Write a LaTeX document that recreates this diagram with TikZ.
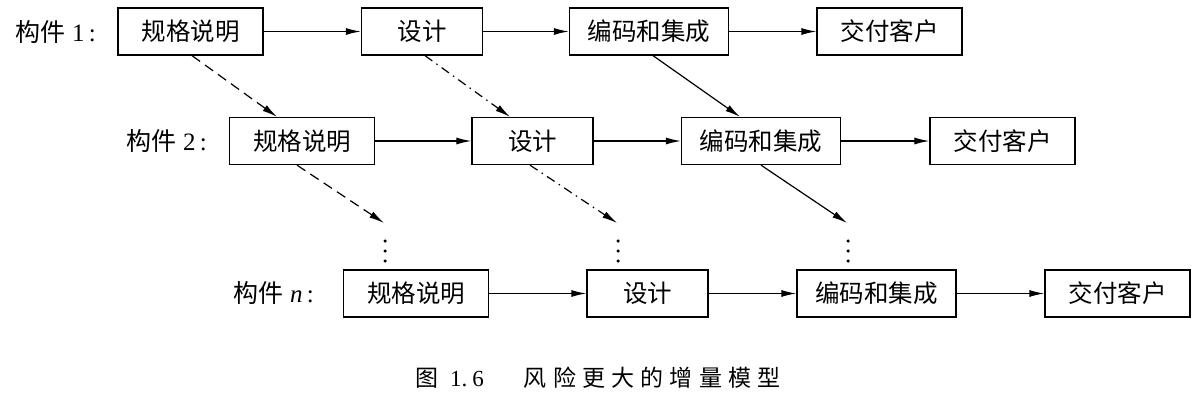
\documentclass[tikz,border=0pt]{standalone}
\usepackage{fontspec}
\setmainfont{Liberation Serif}
\newfontfamily\cjk{Noto Sans CJK SC}
\usetikzlibrary{arrows.meta}
\newcommand\capgap{\hspace{6.2pt}}
\begin{document}
\begin{tikzpicture}[x=1pt,y=-1pt,
  box/.style={draw, line width=1.3pt, minimum height=47pt, inner sep=0pt, font=\cjk\fontsize{24.5}{24.5}\selectfont},
  wa/.style={box, minimum width=145pt},
  wb/.style={box, minimum width=121pt},
  wc/.style={box, minimum width=159pt},
  lbl/.style={anchor=east, inner sep=0pt, font=\fontsize{25}{25}\selectfont},
  arr/.style={-{Latex[length=15pt,width=7pt]}, line width=1.2pt},
  dsh/.style={arr, dash pattern=on 10pt off 6pt},
  dsd/.style={arr, dash pattern=on 9pt off 5pt on 1.5pt off 5pt},
  dot/.style={circle, fill, inner sep=0pt, minimum size=3.5pt}]
\useasboundingbox (0,0) rectangle (1202,401);
% row 1
\node[lbl] (l1) at (96,32) {{\cjk 构件}\hspace{7pt}1\,:};
\node[wa] (a1) at (190.5,31.5) {规格说明};
\node[wb] (b1) at (422,31.5) {设计};
\node[wc] (c1) at (649,31.5) {编码和集成};
\node[wa] (d1) at (889.5,31.5) {交付客户};
% row 2
\node[lbl] (l2) at (207,141) {{\cjk 构件}\hspace{7pt}2\,:};
\node[wa] (a2) at (302,141) {规格说明};
\node[wb] (b2) at (532.5,141) {设计};
\node[wc] (c2) at (761,141) {编码和集成};
\node[wa] (d2) at (1002.5,141) {交付客户};
% row 3
\node[lbl] (l3) at (314,293.5) {{\cjk 构件}\hspace{7pt}\textit{n}\,:};
\node[wa] (a3) at (416,293.5) {规格说明};
\node[wb] (b3) at (647.5,293.5) {设计};
\node[wc] (c3) at (876.5,293.5) {编码和集成};
\node[wa] (d3) at (1117.5,293.5) {交付客户};
% horizontal arrows
\foreach \r in {1,2,3}{
  \draw[arr] (a\r) -- (b\r);
  \draw[arr] (b\r) -- (c\r);
  \draw[arr] (c\r) -- (d\r);
}
% diagonal arrows row 1 -> row 2
\draw[dsh] ([xshift=1.5pt]a1.south) -- ([xshift=-25pt]a2.north);
\draw[dsd] ([xshift=3pt]b1.south) -- ([xshift=-22.5pt]b2.north);
\draw[arr] ([xshift=4pt]c1.south) -- ([xshift=-21pt]c2.north);
% diagonal arrows row 2 -> dots
\coordinate (ea) at (384,223);
\coordinate (eb) at (617,223);
\coordinate (ec) at (847,223);
\draw[dsh] ([xshift=-5pt]a2.south) -- (ea);
\draw[dsd] ([xshift=-2.5pt]b2.south) -- (eb);
\draw[arr] (c2.south) -- (ec);
% dots
\foreach \x/\n in {385/a,618/b,848/c}{
  \node[dot] (\n d1) at (\x,241) {};
  \node[dot] (\n d2) at (\x,251) {};
  \node[dot] (\n d3) at (\x,261) {};
}
% caption
\node[anchor=west, inner sep=0pt, font=\fontsize{23}{23}\selectfont] (cap) at (415,378)
  {{\cjk 图}\hspace{12pt}1.\hspace{5pt}6\hspace{40pt}{\cjk 风\capgap 险\capgap 更\capgap 大\capgap 的\capgap 增\capgap 量\capgap 模\capgap 型}};
\end{tikzpicture}
\end{document}
